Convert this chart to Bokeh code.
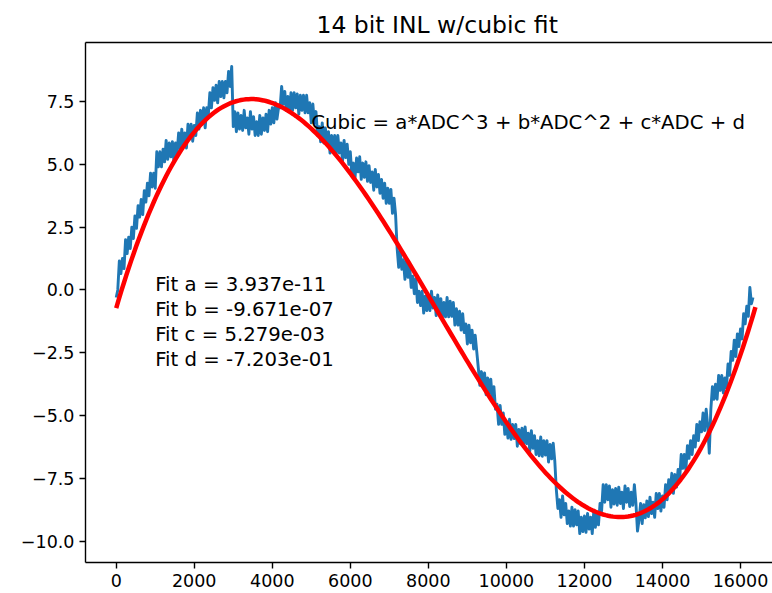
import numpy as np
from bokeh.plotting import figure
from bokeh.models import Range1d, FixedTicker, LinearAxis, Label
from bokeh.embed import file_html
from bokeh.resources import INLINE

# ---------------- data ----------------
title_text = "14 bit INL w/cubic fit"
equation_text = "Cubic = a*ADC^3 + b*ADC^2 + c*ADC + d"

x_ticks = [0, 2000, 4000, 6000, 8000, 10000, 12000, 14000, 16000]
x_tick_labels = ["0", "2000", "4000", "6000", "8000", "10000", "12000", "14000", "16000"]
y_ticks = [-10.0, -7.5, -5.0, -2.5, 0.0, 2.5, 5.0, 7.5]
y_tick_labels = ["\u221210.0", "\u22127.5", "\u22125.0", "\u22122.5", "0.0", "2.5", "5.0", "7.5"]

adc_step = 40
inl_values = [
    -0.3, 0.0, 1.15, 0.65, 1.25, 0.85, 2.0, 1.45, 2.1, 1.65, 2.5, 2.05, 2.95, 2.45, 3.35, 2.9, 3.6, 3.0, 3.95, 3.5,
    4.25, 3.75, 4.65, 4.1, 4.65, 4.05, 5.5, 4.9, 5.5, 4.9, 5.6, 5.1, 5.95, 5.2, 5.85, 5.3, 5.9, 5.1, 5.85, 5.45,
    6.25, 5.62, 6.4, 5.77, 6.25, 5.65, 6.6, 6.0, 6.6, 5.92, 6.55, 6.15, 7.05, 6.4, 7.15, 6.62, 7.25, 6.45, 7.25, 6.95,
    7.85, 7.25, 8.05, 7.55, 8.15, 7.45, 8.3, 7.7, 8.3, 7.65, 8.3, 7.85, 8.7, 8.1, 8.9, 6.5, 7.1, 6.3, 7.05, 6.4,
    6.95, 6.35, 7.15, 6.45, 6.85, 6.2, 7.1, 6.4, 6.9, 6.15, 6.7, 6.15, 6.95, 6.2, 6.85, 6.35, 7.0, 6.3, 7.15, 6.6,
    7.25, 6.65, 7.45, 6.8, 7.25, 7.25, 8.1, 7.4, 7.9, 7.15, 7.7, 7.1, 7.85, 7.15, 7.85, 7.25, 7.8, 7.0, 7.75, 7.15,
    7.75, 7.05, 7.75, 7.05, 7.45, 6.65, 7.4, 6.65, 7.1, 6.15, 6.5, 5.9, 6.65, 5.85, 6.45, 5.8, 6.3, 5.45, 6.15, 5.55,
    6.15, 5.45, 6.15, 5.45, 5.85, 5.12, 5.95, 5.27, 5.8, 5.0, 5.5, 4.55, 5.05, 4.45, 5.25, 4.7, 5.3, 4.4, 5.05, 4.48,
    5.1, 4.32, 4.95, 4.28, 4.7, 3.97, 4.8, 4.1, 4.6, 3.85, 4.4, 3.65, 4.25, 3.45, 4.05, 3.45, 4.0, 3.05, 3.65, 3.0,
    1.65, 0.9, 1.55, 0.82, 1.2, 0.42, 1.2, 0.5, 1.0, 0.1, 0.55, -0.15, 0.45, -0.5, -0.05, -0.62, -0.05, -0.92, -0.25, -0.82,
    -0.2, -0.82, -0.05, -0.72, -0.3, -1.02, -0.2, -0.87, -0.35, -1.07, -0.5, -1.07, -0.3, -1.07, -0.45, -1.05, -0.5, -1.4, -0.75, -1.4,
    -0.85, -1.6, -0.95, -1.7, -1.35, -2.15, -1.4, -2.1, -1.6, -2.35, -1.8, -2.45, -3.1, -3.8, -3.25, -3.85, -3.3, -4.17, -3.5, -4.12,
    -3.55, -4.4, -3.85, -4.75, -4.55, -5.35, -4.6, -5.35, -4.9, -5.75, -5.3, -5.9, -5.15, -5.95, -5.35, -5.92, -5.35, -6.22, -5.55, -6.12,
    -5.5, -6.17, -5.45, -6.12, -5.7, -6.42, -5.6, -6.3, -5.8, -6.55, -6.0, -6.6, -5.85, -6.62, -6.0, -6.57, -6.0, -6.85, -6.15, -6.72,
    -6.1, -6.8, -7.95, -8.7, -8.35, -9.05, -8.2, -8.95, -8.5, -9.3, -8.8, -9.4, -8.65, -9.4, -8.75, -9.35, -8.8, -9.7, -9.05, -9.62,
    -9.0, -9.65, -8.9, -9.52, -9.05, -9.7, -8.8, -9.45, -8.9, -9.35, -8.5, -8.8, -7.75, -8.45, -7.75, -8.35, -7.8, -8.65, -7.95, -8.52,
    -7.9, -8.57, -7.85, -8.5, -8.05, -8.7, -7.8, -8.45, -7.9, -8.62, -8.05, -8.57, -7.75, -8.5, -9.6, -9.15, -8.5, -9.3, -8.55, -9.07,
    -8.4, -9.02, -8.25, -8.9, -8.45, -9.05, -8.1, -8.7, -8.1, -8.8, -8.2, -8.65, -7.75, -8.35, -7.55, -8.0, -7.3, -8.1, -7.35, -7.85,
    -7.15, -7.55, -6.55, -7.1, -6.55, -7.15, -6.2, -6.7, -6.0, -6.55, -5.8, -6.25, -5.35, -6.0, -5.25, -5.65, -4.9, -5.6, -4.75, -5.4,
    -6.5, -4.75, -3.85, -4.35, -3.75, -4.35, -3.4, -4.0, -3.4, -4.1, -3.5, -3.9, -2.95, -3.4, -2.45, -2.8, -2.0, -2.65, -1.75, -2.25,
    -1.55, -1.95, -0.95, -1.35, -0.65, -1.05, 0.1, -0.55, -0.3,
]
adc_codes = list(range(0, adc_step * len(inl_values), adc_step))

# cubic fit coefficients (as printed on the chart)
fit_a = 3.937e-11
fit_b = -9.671e-07
fit_c = 5.279e-03
fit_d = -7.203e-01
fit_names = ["a", "b", "c", "d"]
fit_values = [fit_a, fit_b, fit_c, fit_d]

fit_adc = np.append(np.arange(0, 16383, 64), 16383).astype(float)
fit_inl = fit_a * fit_adc**3 + fit_b * fit_adc**2 + fit_c * fit_adc + fit_d

# ---------------- figure ----------------
FONT = "DejaVu Sans"
p = figure(
    width=772, height=593,
    x_range=Range1d(-787, 16820), y_range=Range1d(-10.85, 9.85),
    output_backend="svg", toolbar_location=None, tools="",
    min_border_left=85, min_border_right=0, min_border_top=42, min_border_bottom=31,
    title=title_text,
)
p.background_fill_color = "white"
p.border_fill_color = "white"
p.outline_line_color = None
p.xgrid.visible = False
p.ygrid.visible = False

p.title.text_font = FONT
p.title.text_font_size = "23.5px"
p.title.text_font_style = "normal"
p.title.text_color = "black"
p.title.align = "left"
p.title.offset = 231
p.title.standoff = 8
p.title.text_line_height = 0.8

for ax in (p.xaxis[0], p.yaxis[0]):
    ax.axis_line_width = 1.4
    ax.axis_line_color = "black"
    ax.major_tick_line_width = 1.4
    ax.major_tick_line_color = "black"
    ax.major_tick_out = 6
    ax.major_tick_in = 0
    ax.minor_tick_line_color = None
    ax.major_label_text_font = FONT
    ax.major_label_text_font_size = "17.5px"
    ax.major_label_text_color = "black"
    ax.major_label_standoff = 5

p.xaxis[0].ticker = FixedTicker(ticks=x_ticks)
p.xaxis[0].major_label_overrides = {t: s for t, s in zip(x_ticks, x_tick_labels)}
p.yaxis[0].ticker = FixedTicker(ticks=y_ticks)
p.yaxis[0].major_label_overrides = {t: s for t, s in zip(y_ticks, y_tick_labels)}

top = LinearAxis(ticker=FixedTicker(ticks=[]))
top.axis_line_width = 1.4
top.axis_line_color = "black"
top.major_tick_out = 0
top.major_tick_in = 0
top.major_label_standoff = 0
top.major_label_text_font_size = "0px"
top.major_tick_line_color = None
top.minor_tick_line_color = None
p.add_layout(top, "above")

p.line(adc_codes, inl_values, line_color="#1f77b4", line_width=2.9, line_join="round")
p.line(fit_adc, fit_inl, line_color="#ff0000", line_width=4.5, line_join="round")

TEXT_SIZE = "19.7px"
p.add_layout(Label(x=5000, y=6.66, text=equation_text, text_font=FONT,
                   text_font_size=TEXT_SIZE, text_color="black",
                   text_align="left", text_baseline="alphabetic"))

px_per_unit = 520 / (9.85 + 10.85)
line_step = 25.0 / px_per_unit
for i, (n, v) in enumerate(zip(fit_names, fit_values)):
    p.add_layout(Label(x=1000, y=-2.78 + (3 - i) * line_step,
                       text=f"Fit {n} = {v:.3e}", text_font=FONT,
                       text_font_size=TEXT_SIZE, text_color="black",
                       text_align="left", text_baseline="alphabetic"))

open("out.html", "w").write(file_html(p, INLINE))
